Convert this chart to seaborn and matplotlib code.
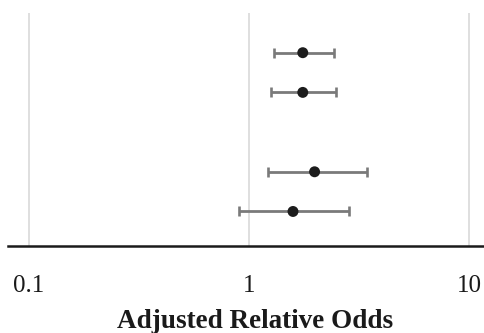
import matplotlib
matplotlib.use("Agg")
import matplotlib.pyplot as plt
import seaborn as sns
import pandas as pd
import numpy as np

# Adjusted relative odds with 95% confidence limits (row 3 is a spacer)
rows = [1, 2, 4, 5]
odds = [1.75, 1.75, 1.98, 1.58]
lower = [1.29, 1.26, 1.22, 0.90]
upper = [2.42, 2.47, 3.41, 2.85]
tick_values = [0.1, 1, 10]
tick_labels = ["0.1", "1", "10"]

df = pd.DataFrame({"row": rows, "odds": odds, "lower": lower, "upper": upper})

sns.set_theme(style="white")
plt.rcParams["font.family"] = ["Liberation Serif", "DejaVu Serif"]

fig = plt.figure(figsize=(4.85, 3.33), dpi=100)
ax = fig.add_axes([8 / 485, 87 / 333, 477 / 485, 233 / 333])

ax.set_xscale("log")
ax.set_xlim(0.0803, 11.76)
ax.set_ylim(5.87, 0)

ax.errorbar(
    df["odds"], df["row"],
    xerr=[df["odds"] - df["lower"], df["upper"] - df["odds"]],
    fmt="none", ecolor="#7a7a7a", elinewidth=2.0,
    capsize=3.4, capthick=1.9, zorder=3,
)
sns.scatterplot(data=df, x="odds", y="row", ax=ax, color="#1c1c1c",
                s=62, edgecolor="none", zorder=4)

ax.set_xticks(tick_values)
ax.set_xticklabels(tick_labels)
ax.xaxis.set_minor_locator(matplotlib.ticker.NullLocator())
ax.set_yticks([])
ax.grid(axis="x", color="#dcdcdc", linewidth=1.3)
ax.set_axisbelow(True)
ax.tick_params(axis="x", direction="out", length=6, width=1.3, color="#dcdcdc",
               labelsize=18, pad=15, labelcolor="#1a1a1a")

for side in ["top", "left", "right"]:
    ax.spines[side].set_visible(False)
ax.spines["bottom"].set_color("#1a1a1a")
ax.spines["bottom"].set_linewidth(1.8)

ax.set_xlabel("Adjusted Relative Odds", fontsize=19.5, fontweight="bold",
              color="#1a1a1a")
ax.xaxis.set_label_coords(0.518, -0.27)
ax.set_ylabel("")

fig.savefig("out.png", dpi=100)
